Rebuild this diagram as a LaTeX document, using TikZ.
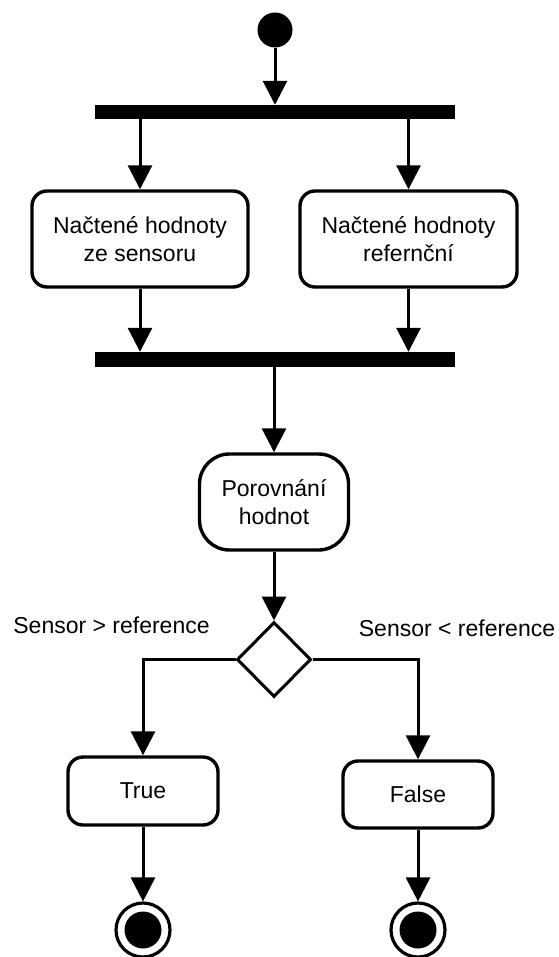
\documentclass[tikz,border=0pt]{standalone}
\usepackage{fontspec}
\setmainfont{Liberation Sans}
\usetikzlibrary{arrows.meta,shapes.geometric}
\begin{document}
\begin{tikzpicture}[x=1pt,y=-1pt,
  every node/.style={font=\fontsize{23}{27.6}\selectfont, align=center},
  act/.style={draw, line width=3.4pt, rounded corners=15pt, inner sep=0pt},
  bar/.style={fill=black, draw=none, minimum width=360pt, inner sep=0pt},
  arr/.style={line width=3pt, -{Triangle[length=24pt,width=24pt]}},
  dot/.style={circle, fill=black, inner sep=0pt}]
\useasboundingbox (0,0) rectangle (558,957);
\node[dot, minimum size=35pt] (start) at (275,30) {};
\node[bar, minimum height=14pt] (bar1) at (275,112) {};
\node[act, minimum width=216pt, minimum height=96pt] (lbox) at (140,239) {Načtené hodnoty\\ze sensoru};
\node[act, minimum width=217pt, minimum height=96pt] (rbox) at (408.5,239) {Načtené hodnoty\\refernční};
\node[bar, minimum height=15pt] (bar2) at (275,359.5) {};
\node[act, rounded corners=30pt, minimum width=149pt, minimum height=96pt] (pbox) at (274,502) {Porovnání\\hodnot};
\node[diamond, draw, line width=3pt, minimum width=74pt, minimum height=75pt, inner sep=0pt] (dec) at (274,659.5) {};
\node (lgt) at (111.5,625) {Sensor > reference};
\node (llt) at (457,628) {Sensor < reference};
\node[act, minimum width=150pt, minimum height=68pt] (tbox) at (143,791) {True};
\node[act, minimum width=150pt, minimum height=67pt] (fbox) at (418,794.5) {False};
\node[circle, draw, line width=3.2pt, minimum size=54pt, inner sep=0pt] (end1) at (143,930) {};
\node[dot, minimum size=37pt] (end1i) at (end1) {};
\node[circle, draw, line width=3.2pt, minimum size=54pt, inner sep=0pt] (end2) at (418,930) {};
\node[dot, minimum size=37pt] (end2i) at (end2) {};
\draw[arr] (start) -- (bar1);
\draw[arr] (bar1.south -| lbox) -- (lbox);
\draw[arr] (bar1.south -| rbox) -- (rbox);
\draw[arr] (lbox) -- (bar2.north -| lbox);
\draw[arr] (rbox) -- (bar2.north -| rbox);
\draw[arr] (bar2.south -| pbox) -- (pbox);
\draw[arr] (pbox) -- (dec);
\draw[arr] (dec.west) -| (tbox.north);
\draw[arr] (dec.east) -| (fbox.north);
\draw[arr] (tbox) -- (end1);
\draw[arr] (fbox) -- (end2);
\end{tikzpicture}
\end{document}
